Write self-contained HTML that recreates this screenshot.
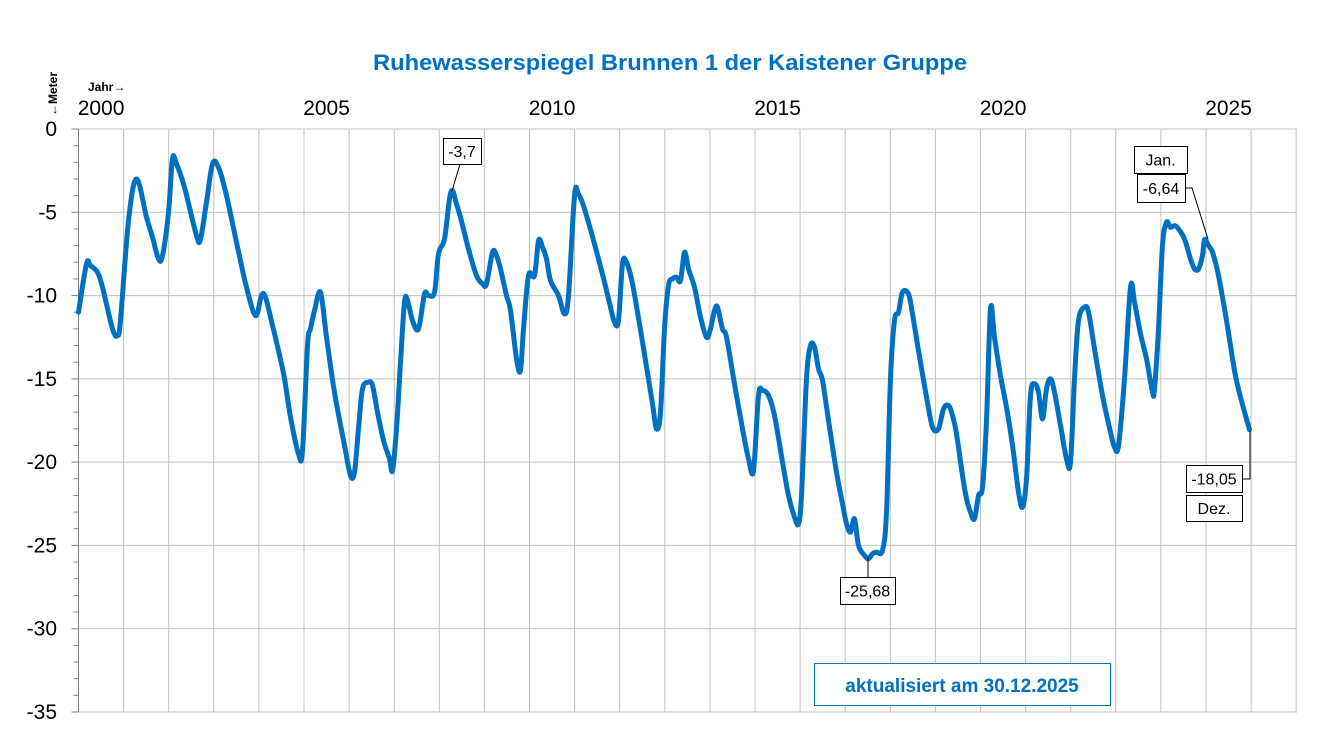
<!DOCTYPE html>
<html><head><meta charset="utf-8"><style>
html,body{margin:0;padding:0;background:#fff;}
svg{display:block;font-family:"Liberation Sans",sans-serif;}
</style></head><body>
<svg id="chart" width="1323" height="743" viewBox="0 0 1323 743" xmlns="http://www.w3.org/2000/svg">
<text x="670" y="70" text-anchor="middle" font-size="22" font-weight="bold" fill="#0070C0" textLength="594" lengthAdjust="spacingAndGlyphs">Ruhewasserspiegel Brunnen 1 der Kaistener Gruppe</text>
<g id="grid"></g>
<g id="axes"></g>
<path id="line" fill="none" stroke="#0070C0" stroke-width="5" stroke-linejoin="round" stroke-linecap="round"/>
<g id="annot"></g>
<text x="88" y="91" font-size="12" font-weight="bold" fill="#000">Jahr→</text>
<text transform="translate(57,116) rotate(-90)" font-size="12" font-weight="bold" fill="#000">←Meter</text>
<rect x="814.5" y="663.5" width="296" height="42" fill="#fff" stroke="#0070C0" stroke-width="1"/>
<text x="962" y="692" text-anchor="middle" font-size="19" font-weight="bold" fill="#0070C0">aktualisiert am 30.12.2025</text>
</svg>
<script>
// years since 2000 (decimal)
const yearsSince2000 = [0,0.177,0.266,0.421,0.532,0.754,0.865,0.931,1.109,1.286,1.508,1.641,1.774,1.863,1.996,2.084,2.173,2.350,2.616,2.705,2.838,2.971,3.104,3.282,3.503,3.725,3.925,4.058,4.146,4.302,4.435,4.568,4.701,4.878,4.967,5.078,5.144,5.233,5.366,5.499,5.676,5.898,6.031,6.120,6.208,6.297,6.430,6.519,6.630,6.763,6.896,6.962,7.051,7.140,7.228,7.295,7.406,7.539,7.672,7.761,7.894,7.982,8.115,8.226,8.293,8.381,8.470,8.647,8.825,8.958,9.047,9.180,9.268,9.357,9.490,9.579,9.712,9.800,9.867,9.978,10.111,10.200,10.288,10.377,10.466,10.643,10.776,10.865,10.998,11.086,11.220,11.441,11.663,11.796,11.885,11.973,12.062,12.151,12.284,12.506,12.727,12.816,12.905,12.993,13.082,13.171,13.259,13.348,13.437,13.525,13.659,13.792,13.925,14.013,14.102,14.169,14.279,14.368,14.545,14.723,14.856,14.967,15.078,15.166,15.299,15.432,15.610,15.743,15.876,15.965,16.031,16.142,16.231,16.319,16.408,16.497,16.630,16.807,16.940,17.029,17.118,17.206,17.295,17.428,17.517,17.605,17.694,17.827,17.916,18.004,18.093,18.182,18.271,18.404,18.492,18.625,18.803,18.936,19.069,19.180,19.290,19.379,19.468,19.601,19.690,19.778,19.867,19.956,20.044,20.133,20.222,20.310,20.443,20.576,20.710,20.843,20.931,21.020,21.109,21.197,21.286,21.375,21.463,21.552,21.641,21.774,21.907,21.996,22.084,22.173,22.306,22.395,22.528,22.705,22.882,22.971,23.060,23.193,23.326,23.415,23.548,23.681,23.814,23.858,23.947,24.035,24.124,24.213,24.302,24.390,24.523,24.656,24.745,24.834,24.922,24.967,25.055,25.144,25.277,25.455,25.632,25.765,25.965];
const levels = [-11,-8.1,-8.2,-8.6,-9.5,-12.0,-12.4,-11.5,-5.5,-3.0,-5.3,-6.5,-7.8,-7.6,-5,-1.8,-2.1,-3.5,-6.4,-6.6,-4.4,-2.1,-2.3,-4.0,-6.8,-9.5,-11.2,-10.0,-10.1,-11.8,-13.3,-15,-17.3,-19.5,-19.3,-13,-12.0,-10.9,-9.8,-12.5,-15.8,-19.0,-20.8,-20.6,-18,-15.6,-15.2,-15.4,-17,-18.7,-19.8,-20.5,-18,-14,-10.4,-10.3,-11.5,-12.0,-9.9,-10.0,-9.8,-7.5,-6.6,-4.2,-3.7,-4.5,-5.3,-7.2,-8.8,-9.3,-9.3,-7.4,-7.6,-8.4,-10.0,-10.9,-13.8,-14.5,-12,-8.8,-8.8,-6.7,-7.1,-7.8,-9.1,-10.0,-11.1,-10,-4,-3.9,-4.8,-6.9,-9.2,-10.7,-11.6,-11.5,-8.1,-8.0,-9.3,-12.8,-16.5,-18,-17,-12,-9.4,-9.0,-8.9,-9.1,-7.4,-8.4,-9.5,-11.3,-12.5,-12.0,-10.9,-10.7,-12.0,-12.5,-15.3,-18,-19.8,-20.5,-16,-15.7,-16,-17.2,-20.0,-22,-23.3,-23.7,-22,-15,-13,-13.1,-14.4,-15.1,-17.5,-20.6,-22.5,-23.7,-24.2,-23.4,-25.0,-25.6,-25.8,-25.5,-25.4,-25.3,-23,-15,-11.5,-11.0,-9.8,-9.9,-11.1,-13.3,-16.1,-17.9,-18.0,-16.8,-16.6,-17.2,-18.3,-20.8,-22.2,-23.0,-23.4,-22,-21.5,-17.5,-10.8,-12.5,-14.8,-16.7,-19,-21.8,-22.7,-21,-16,-15.3,-15.8,-17.4,-15.6,-15.0,-15.8,-17.8,-19.8,-20.0,-15,-11.5,-10.7,-11.0,-13.2,-16.0,-18.2,-19.1,-19,-15,-9.5,-10.4,-12.3,-13.8,-15.8,-15.6,-12,-7,-5.6,-5.9,-5.8,-6.0,-6.6,-7.8,-8.4,-8.4,-7.6,-6.64,-7.0,-7.4,-8.8,-11.5,-14.5,-16.1,-18.05];
const yearLabels = ["2000","2005","2010","2015","2020","2025"];
const yTicks = [0,-5,-10,-15,-20,-25,-30,-35];

const L=78.5,R=1297,T=129,B=712,YEARPX=45.1;
const xs=t=>L+t*YEARPX;
const ys=v=>T+(-v)/35*(B-T);
const NS='http://www.w3.org/2000/svg';
function mk(tag,attrs,parent){const e=document.createElementNS(NS,tag);for(const k in attrs)e.setAttribute(k,attrs[k]);parent.appendChild(e);return e;}
const grid=document.getElementById('grid'),axes=document.getElementById('axes'),ann=document.getElementById('annot');
for(let y=1;y<=27;y++){const l=mk('line',{x1:xs(y),x2:xs(y),y1:T,y2:B,stroke:'#bfbfbf','stroke-width':1},grid);

}
yTicks.forEach(v=>{const l=mk('line',{x1:L,x2:R,y1:ys(v),y2:ys(v),stroke:'#bfbfbf','stroke-width':1},grid);


const tk=mk('line',{x1:L-7,x2:L,y1:ys(v),y2:ys(v),stroke:'#808080'},axes);


const t=mk('text',{x:57,y:ys(v)+7,'text-anchor':'end','font-size':21,fill:'#000'},axes);t.textContent=String(v);

});
for(let v=0;v>=-35;v--){if(v%5===0)continue;const tk=mk('line',{x1:L-5,x2:L,y1:ys(v),y2:ys(v),stroke:'#808080'},axes);

}
const ax=mk('line',{x1:L,x2:L,y1:T,y2:B,stroke:'#808080'},axes);


yearLabels.forEach((s,i)=>{const t=mk('text',{x:xs(i*5+0.5),y:115,'text-anchor':'middle','font-size':21,fill:'#000'},axes);t.textContent=s;

});
// smooth path (Catmull-Rom)
const P=yearsSince2000.map((t,i)=>[xs(t),ys(levels[i])]);
let d='M'+P[0][0]+','+P[0][1];
for(let i=0;i<P.length-1;i++){const p0=P[i-1]||P[i],p1=P[i],p2=P[i+1],p3=P[i+2]||p2;
d+=' C'+(p1[0]+(p2[0]-p0[0])/6)+','+(p1[1]+(p2[1]-p0[1])/6)+' '+(p2[0]-(p3[0]-p1[0])/6)+','+(p2[1]-(p3[1]-p1[1])/6)+' '+p2[0]+','+p2[1];}
document.getElementById('line').setAttribute('d',d);
function box(x,y,w,h,txt,name){const r=mk('rect',{x:x+.5,y:y+.5,width:w,height:h,fill:'#fff',stroke:'#000'},ann);


const t=mk('text',{x:x+w/2,y:y+h/2+6,'text-anchor':'middle','font-size':16,fill:'#000'},ann);t.textContent=txt;

}
function lead(pts,name){const p=mk('polyline',{points:pts,fill:'none',stroke:'#000','stroke-width':1},ann);

}
lead('460,164 452,191','max-leader');
box(443,138,38,26,'-3,7','max-label');
lead('1185,188 1192,188 1208,239','jan-leader');
box(1134,146,53,27,'Jan.','jan-label');
box(1137,174,48,28,'-6,64','jan-value-label');
lead('1242,479 1250,479 1250,431','dec-leader');
box(1186,465,56,27,'-18,05','dec-value-label');
box(1186,495,56,26,'Dez.','dec-label');
lead('868,577 868,557','min-leader');
box(840,577,55,27,'-25,68','min-label');
</script>
</body></html>
